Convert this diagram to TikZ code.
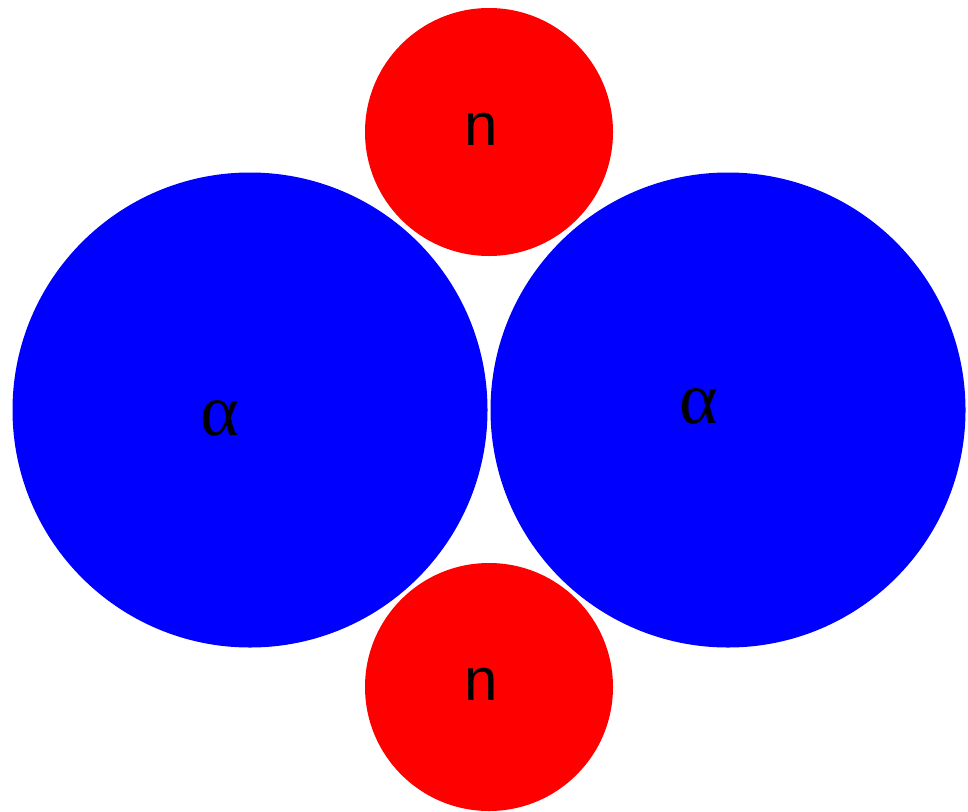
\documentclass[tikz,border=0pt]{standalone}
\usepackage{fontspec}
\setmainfont{Liberation Sans}
\newfontfamily\greekfont{Liberation Serif}
\begin{document}
\begin{tikzpicture}[x=1pt,y=-1pt,
  blueball/.style={circle,fill={rgb,255:red,0;green,0;blue,255},draw=none,minimum size=475pt,inner sep=0pt},
  redball/.style={circle,fill={rgb,255:red,255;green,0;blue,0},draw=none,minimum size=248pt,inner sep=0pt},
  lbl/.style={inner sep=0pt,anchor=base,font=\fontsize{60}{60}\selectfont},
  glbl/.style={inner sep=0pt,anchor=base,font=\greekfont\fontsize{74}{74}\selectfont}]
\useasboundingbox (0,0) rectangle (968,811);
\node[blueball] (a1) at (250,410) {};
\node[blueball] (a2) at (728,410) {};
\node[redball] (n1) at (489,132) {};
\node[redball] (n2) at (489,687) {};
\node[lbl] (t1) at (481,145) {n};
\node[lbl] (t2) at (481,700) {n};
\node[glbl] (t3) at (220,435) {α};
\node[glbl] (t4) at (699,423) {α};
\end{tikzpicture}
\end{document}
